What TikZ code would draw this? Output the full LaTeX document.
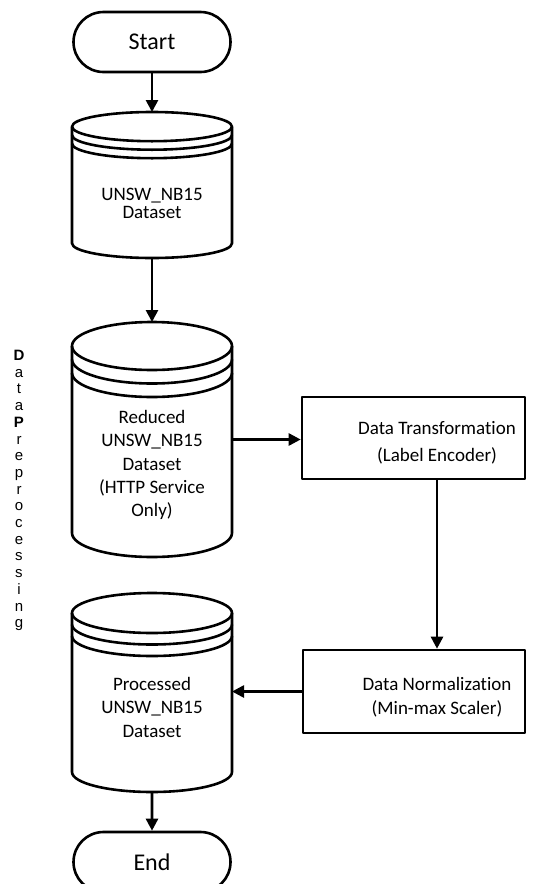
\documentclass[tikz,border=0pt]{standalone}
\usepackage{fontspec}
\setmainfont{Carlito}[Ligatures=NoCommon]
\newfontfamily\sidefont{Liberation Sans}
\usetikzlibrary{arrows.meta,shapes.misc}

% datastore drawing: #1 left x, #2 right x, #3 top y, #4 bottom y, #5 cap half-height, #6 ring gap
\newcommand\storeshape[6]{%
  \pgfmathsetmacro\sxr{(#2-#1)/2}%
  \pgfmathsetmacro\scx{(#1+#2)/2}%
  \draw[outline] (#1,#3+#5) -- (#1,#4-#5)
     arc[start angle=180, end angle=0, x radius=\sxr, y radius=#5] -- (#2,#3+#5);
  \draw[outline] (\scx,#3+#5) ellipse[x radius=\sxr, y radius=#5];
  \draw[outline] (#1,#3+#5+#6) arc[start angle=180, end angle=0, x radius=\sxr, y radius=#5];
  \draw[outline] (#1,#3+#5+2*#6) arc[start angle=180, end angle=0, x radius=\sxr, y radius=#5];
}

\tikzset{
  outline/.style={line width=2.6pt, line join=round},
  flowarrow/.style={line width=2.6pt, -{Triangle[length=12pt,width=12pt]}},
  terminal/.style={outline, draw, rounded rectangle, minimum width=157pt,
    minimum height=60pt, inner sep=0pt, font=\fontsize{24}{28}\selectfont},
  procbox/.style={outline, draw, rectangle, inner sep=0pt},
  holder/.style={inner sep=0pt, outer sep=0pt, minimum width=160pt},
  celltext/.style={align=center, inner sep=0pt},
}

\begin{document}
\begin{tikzpicture}[x=1pt, y=-1pt]
  \useasboundingbox (0,0) rectangle (558,884);

  % terminals
  \node[terminal] (start) at (152,42) {Start};
  \node[terminal] (end) at (152,862) {End};

  % datastores (placeholders carry the names, outlines drawn on top)
  \node[holder, minimum height=146pt] (c1) at (152,185) {};
  \storeshape{72}{232}{112}{258}{14.6}{8.5}
  \node[celltext, font=\fontsize{19}{18}\selectfont] (c1t) at (152,203)
    {UNSW\_NB15\\Dataset};

  \node[holder, minimum height=235pt] (c2) at (152,439.5) {};
  \storeshape{72}{232}{322}{557}{24}{13.5}
  \node[celltext, font=\fontsize{19}{23.2}\selectfont] (c2t) at (152,465)
    {Reduced\\UNSW\_NB15\\Dataset\\(HTTP Service\\Only)};

  \node[holder, minimum height=199pt] (c3) at (152,692.5) {};
  \storeshape{72}{232}{593}{792}{20}{11.5}
  \node[celltext, font=\fontsize{19}{23.5}\selectfont] (c3t) at (152,707)
    {Processed\\UNSW\_NB15\\Dataset};

  % process boxes
  \node[procbox, minimum width=223pt, minimum height=82pt] (dt) at (413.5,438) {};
  \node[celltext, font=\fontsize{19}{26.5}\selectfont] (dtt) at (437,443)
    {Data Transformation\\(Label Encoder)};
  \node[procbox, minimum width=222pt, minimum height=83pt] (dn) at (414,691.5) {};
  \node[celltext, font=\fontsize{19}{24}\selectfont] (dnt) at (437,697)
    {Data Normalization\\(Min-max Scaler)};

  % side caption
  \node[celltext, anchor=north, font=\sidefont\fontsize{15}{16.7}\selectfont] (side) at (19,350)
    {\textbf{D}\\a\\t\\a\\\textbf{P}\\r\\e\\p\\r\\o\\c\\e\\s\\s\\i\\n\\g};

  % connectors
  \draw[flowarrow] (start) -- (c1);
  \draw[flowarrow] (c1) -- (c2);
  \draw[flowarrow] (c2.east) -- (c2.east -| dt.west);
  \draw[flowarrow] (dt.south -| dtt) -- (dn.north -| dtt);
  \draw[flowarrow] (dn.west) -- (dn.west -| c3.east);
  \draw[flowarrow] (c3) -- (end);
\end{tikzpicture}
\end{document}
